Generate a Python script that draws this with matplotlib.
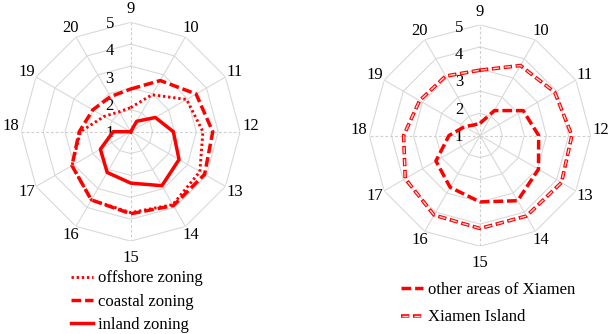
import numpy as np
import matplotlib
matplotlib.use('Agg')
import matplotlib.pyplot as plt
from matplotlib.legend_handler import HandlerTuple
import matplotlib.transforms as mtransforms

plt.rcParams['font.family'] = ['Liberation Serif', 'DejaVu Serif']
plt.rcParams['lines.scale_dashes'] = False

# ---------------- data ----------------
hours = ['9', '10', '11', '12', '13', '14', '15', '16', '17', '18', '19', '20']
ring_values = [1, 2, 3, 4, 5]

offshore = [1.1, 1.95, 2.95, 3.3, 3.65, 3.85, 3.7, 3.6, 3.1, 2.3, 1.4, 1.05]
coastal = [1.95, 2.7, 3.45, 3.75, 3.9, 3.9, 3.75, 3.6, 3.1, 2.35, 2.0, 1.85]
inland = [0.0, 0.55, 1.3, 1.95, 2.55, 2.85, 2.35, 2.15, 1.6, 0.8, 0.0, 0.0]

other_areas = [0.55, 1.3, 2.25, 2.65, 3.05, 3.4, 3.0, 2.7, 2.3, 1.4, 0.8, 0.55]
xiamen_island = [2.95, 3.65, 3.9, 4.15, 4.25, 4.2, 4.2, 4.15, 3.9, 3.45, 3.15, 3.1]

RED = '#ff0000'
GRID = '#d9d9d9'
FS = 12

fig = plt.figure(figsize=(6.12, 3.34), dpi=100)
W, H = 612.0, 334.0


def make_radar(cx, cy, rad):
    rect = [(cx - rad) / W, 1 - (cy + rad) / H, 2 * rad / W, 2 * rad / H]
    ax = fig.add_axes(rect, projection='polar')
    ax.set_theta_zero_location('N')
    ax.set_theta_direction(-1)
    ax.set_ylim(0, 5)
    ax.set_axis_off()
    n = len(hours)
    th = np.arange(n) * 2 * np.pi / n
    thc = np.append(th, th[0])
    for rv in ring_values:
        ax.plot(thc, [rv] * (n + 1), color=GRID, lw=0.8, zorder=1)
    for i, t in enumerate(th):
        if i % 3 == 0:
            ax.plot([t, t], [0, 5], color='#cfcfcf', lw=0.8,
                    linestyle=(0, (2, 1.5)), zorder=1)
        else:
            ax.plot([t, t], [0, 5], color=GRID, lw=0.8, zorder=1)
    # hour labels
    for i, (t, lab) in enumerate(zip(th, hours)):
        if i == 0:
            r = 5.6 * 109.4 / rad if rad > 110 else 5.6
            r = max(r, 5.6)
        elif i == 6:
            r = 5.75
        else:
            r = 5.47
        dy = 6 if i % 6 == 3 else 0
        tr = mtransforms.offset_copy(ax.transData, fig=fig, x=0, y=dy, units='dots')
        ax.text(t, r, lab, transform=tr, ha='center', va='center',
                fontsize=FS, clip_on=False)
    # radial labels (placed as in the reference, left of the vertical axis)
    for k, rv in enumerate(ring_values):
        fy = 0.5 + (k * 27.3 - 1.5) / (2 * rad)
        ax.text(0.5 - 21.0 / (2 * rad), fy, str(rv), transform=ax.transAxes,
                ha='center', va='center', fontsize=FS, clip_on=False)
    return ax, thc


def closed(vals):
    return list(vals) + [vals[0]]


# ---------------- left chart ----------------
axL, thc = make_radar(130.7, 131.7, 109.4)
l_off, = axL.plot(thc, closed(offshore), color=RED, lw=2.1,
                  linestyle=(0, (1.7, 2.0)), zorder=3)
l_coa, = axL.plot(thc, closed(coastal), color=RED, lw=2.5,
                  linestyle=(0, (7.0, 2.8)), zorder=3)
l_inl, = axL.plot(thc, closed(inland), color=RED, lw=2.5, zorder=3)

fig.legend(handles=[l_off, l_coa, l_inl],
           labels=['offshore zoning', 'coastal zoning', 'inland zoning'],
           loc='upper left', bbox_to_anchor=(70.5 / W, 1 - 270.5 / H),
           frameon=False, fontsize=FS, borderpad=0, borderaxespad=0,
           handlelength=1.32, handletextpad=0.3, labelspacing=0.44)

# ---------------- right chart ----------------
axR, thc = make_radar(480.0, 135.5, 110.7)
r_oth, = axR.plot(thc, closed(other_areas), color=RED, lw=2.5,
                  linestyle=(0, (7.0, 2.8)), zorder=3)
r_isl_o, = axR.plot(thc, closed(xiamen_island), color=RED, lw=2.6,
                    linestyle=(0, (6.0, 2.6)), zorder=3)
r_isl_i, = axR.plot(thc, closed(xiamen_island), color='#ffd6d6', lw=1.0,
                    linestyle=(7.9, (4.4, 4.2)), zorder=4)

fig.legend(handles=[r_oth, (r_isl_o, r_isl_i)],
           labels=['other areas of Xiamen', 'Xiamen Island'],
           loc='upper left', bbox_to_anchor=(400.5 / W, 1 - 282.0 / H),
           frameon=False, fontsize=FS, borderpad=0, borderaxespad=0,
           handlelength=1.32, handletextpad=0.3, labelspacing=0.68,
           handler_map={tuple: HandlerTuple(ndivide=1)})

fig.savefig('out.png', dpi=100)
